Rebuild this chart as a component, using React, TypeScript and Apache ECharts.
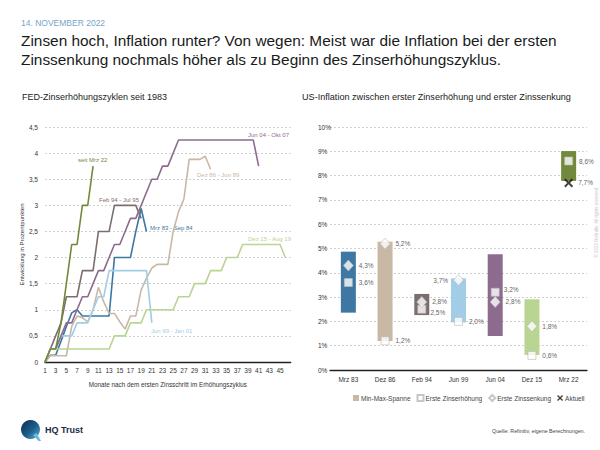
import React, { useEffect, useRef } from 'react';
import * as echarts from 'echarts';

const FONT = '"Liberation Sans", Arial, sans-serif';

// ---------- Left chart: FED hiking cycles ----------
const months = ['1','2','3','4','5','6','7','8','9','10','11','12','13','14','15','16','17','18','19','20','21','22','23','24','25','26','27','28','29','30','31','32','33','34','35','36','37','38','39','40','41','42','43','44','45','46','47'];
const yTicksLeft = [0, 0.5, 1, 1.5, 2, 2.5, 3, 3.5, 4, 4.5];

const cycleMar83 = [0, 0.13, 0.13, 0.4, 0.68, 0.94, 1.0, 0.88, 0.88, 0.88, 0.88, 0.88, 0.88, 2.0, 2.0, 2.0, 2.0, 2.5, 2.94, 2.5];
const cycleDec86 = [0, 0.12, 0.12, 0.12, 0.12, 0.68, 0.88, 0.85, 0.77, 1.0, 1.43, 1.15, 0.93, 0.93, 0.77, 0.63, 0.88, 0.88, 1.38, 1.6, 1.8, 1.87, 1.87, 1.87, 2.5, 2.88, 3.12, 3.88, 3.88, 3.88, 3.94, 3.69];
const cycleFeb94 = [0, 0.25, 0.5, 0.75, 1.25, 1.25, 1.25, 1.75, 1.75, 1.75, 2.5, 2.5, 2.5, 3.0, 3.0, 3.0, 3.0, 3.0, 2.75];
const cycleJun99 = [0, 0.25, 0.25, 0.5, 0.5, 0.5, 0.75, 0.75, 0.75, 1.0, 1.25, 1.25, 1.75, 1.75, 1.75, 1.75, 1.75, 1.75, 1.75, 1.75, 0.75];
const cycleJun04 = [0, 0.25, 0.25, 0.5, 0.75, 0.75, 1.0, 1.25, 1.25, 1.5, 1.75, 1.75, 2.0, 2.25, 2.25, 2.5, 2.75, 2.75, 3.0, 3.25, 3.5, 3.5, 3.75, 3.75, 4.0, 4.25, 4.25, 4.25, 4.25, 4.25, 4.25, 4.25, 4.25, 4.25, 4.25, 4.25, 4.25, 4.25, 4.25, 4.25, 3.75];
const cycleDec15 = [0, 0.25, 0.25, 0.25, 0.25, 0.25, 0.25, 0.25, 0.25, 0.25, 0.25, 0.25, 0.25, 0.5, 0.5, 0.5, 0.75, 0.75, 0.75, 1.0, 1.0, 1.0, 1.0, 1.0, 1.0, 1.25, 1.25, 1.25, 1.5, 1.5, 1.5, 1.75, 1.75, 1.75, 2.0, 2.0, 2.0, 2.25, 2.25, 2.25, 2.25, 2.25, 2.25, 2.25, 2.25, 2.0];
const cycleMar22 = [0, 0.25, 0.25, 0.75, 1.5, 2.25, 2.25, 3.0, 3.0, 3.75];

const cycleNames = ['Mrz 83 - Sep 84', 'Dez 86 - Jun 89', 'Feb 94 - Jul 95', 'Jun 99 - Jan 01', 'Jun 04 - Okt 07', 'Dez 15 - Aug 19', 'seit Mrz 22'];

// ---------- Right chart: US inflation ----------
const inflCats = ['Mrz 83', 'Dez 86', 'Feb 94', 'Jun 99', 'Jun 04', 'Dez 15', 'Mrz 22'];
const inflMin = [2.36, 1.19, 2.26, 1.96, 1.40, 0.62, 7.78];
const inflMax = [4.87, 5.28, 3.13, 3.77, 4.76, 2.91, 9.01];
const firstHike = [3.6, 1.2, 2.5, 2.0, 3.2, 0.6, 8.6];
const firstCut = [4.3, 5.2, 2.8, 3.7, 2.8, 1.8, null];
const current = [null, null, null, null, null, null, 7.7];
const yTicksRight = [0, 1, 2, 3, 4, 5, 6, 7, 8, 9, 10];

const COLORS = ['#3d77a2', '#c9b8a5', '#7b6f6e', '#a2cde6', '#8c6b8e', '#b8d592', '#72893c'];

const fmtComma = (v: number) => String(v).replace('.', ',');
const fmtPct = (v: number) => v.toFixed(1).replace('.', ',') + '%';

const X_PATH = 'path://M0,1.6L1.6,0L5,3.4L8.4,0L10,1.6L6.6,5L10,8.4L8.4,10L5,6.6L1.6,10L0,8.4L3.4,5Z';

export default function App() {
  const ref = useRef<HTMLDivElement>(null);
  useEffect(() => {
    if (!ref.current) return;
    const chart = echarts.init(ref.current, undefined, { renderer: 'svg' });

    const gridLine = { show: true, lineStyle: { color: '#c4c4c4', type: [2, 2] as any, width: 0.8 } };
    const axisLabelStyle = { fontSize: 6.5, color: '#333', fontFamily: FONT };

    const lineSeries = [cycleMar83, cycleDec86, cycleFeb94, cycleJun99, cycleJun04, cycleDec15, cycleMar22].map((d, i) => ({
      type: 'line',
      name: cycleNames[i],
      xAxisIndex: 0,
      yAxisIndex: 0,
      data: d,
      showSymbol: false,
      symbol: 'none',
      lineStyle: { color: COLORS[i], width: 1.6 },
      itemStyle: { color: COLORS[i] },
      z: i === 6 ? 5 : 3,
    }));

    // label placement tweaks (relative to the symbol's box)
    const cutLabel: Record<number, any> = {
      3: { position: 'left' },
    };
    const hikeLabel: Record<number, any> = {
      2: { position: [13, 7.5], align: 'left', verticalAlign: 'middle' },
      4: { position: [13, 2], align: 'left', verticalAlign: 'middle' },
    };

    const labelBase = { show: true, fontSize: 6.5, color: '#333', fontFamily: FONT, formatter: (p: any) => fmtPct(p.value[1] ?? p.value) };

    const option: any = {
      animation: false,
      textStyle: { fontFamily: FONT },
      grid: [
        { left: 45, top: 127, width: 245.7, height: 235 },
        { left: 330, top: 127, width: 257, height: 243 },
      ],
      xAxis: [
        {
          gridIndex: 0,
          type: 'category',
          data: months,
          boundaryGap: false,
          axisLine: { lineStyle: { color: '#222', width: 1.3 } },
          axisTick: { show: false },
          axisLabel: { ...axisLabelStyle, interval: 1, margin: 5, formatter: (v: string) => (v === '47' ? '' : v) },
          splitLine: { show: false },
          name: 'Monate nach dem ersten Zinsschritt im Erhöhungszyklus',
          nameLocation: 'middle',
          nameGap: 19,
          nameTextStyle: { fontSize: 6.3, color: '#333', fontFamily: FONT },
        },
        {
          gridIndex: 1,
          type: 'category',
          data: inflCats,
          axisLine: { lineStyle: { color: '#222', width: 1.3 } },
          axisTick: { show: false },
          axisLabel: { ...axisLabelStyle, margin: 6 },
          splitLine: { show: false },
        },
      ],
      yAxis: [
        {
          gridIndex: 0,
          type: 'value',
          min: yTicksLeft[0],
          max: yTicksLeft[yTicksLeft.length - 1],
          interval: 0.5,
          axisLine: { show: false },
          axisTick: { show: false },
          axisLabel: { ...axisLabelStyle, margin: 7, formatter: (v: number) => fmtComma(v) },
          splitLine: gridLine,
          name: 'Entwicklung in Prozentpunkten',
          nameLocation: 'middle',
          nameGap: 19,
          nameTextStyle: { fontSize: 6, color: '#333', fontFamily: FONT },
        },
        {
          gridIndex: 1,
          type: 'value',
          min: yTicksRight[0],
          max: yTicksRight[yTicksRight.length - 1],
          interval: 1,
          axisLine: { show: false },
          axisTick: { show: false },
          axisLabel: { ...axisLabelStyle, margin: 12, align: 'left', formatter: (v: number) => v + '%' },
          splitLine: gridLine,
        },
      ],
      legend: {
        left: 348,
        top: 389,
        itemWidth: 6,
        itemHeight: 6,
        itemGap: 6,
        selectedMode: false,
        textStyle: { fontSize: 6.5, color: '#444', fontFamily: FONT, padding: [0, 0, 0, -3] },
        data: [
          { name: 'Min-Max-Spanne', icon: 'rect' },
          { name: 'Erste Zinserhöhung' },
          { name: 'Erste Zinssenkung' },
          { name: 'Aktuell' },
        ],
      },
      series: [
        ...lineSeries,
        {
          type: 'bar',
          name: 'base',
          xAxisIndex: 1,
          yAxisIndex: 1,
          stack: 'range',
          barWidth: 15,
          silent: true,
          itemStyle: { color: 'rgba(0,0,0,0)' },
          data: inflMin,
        },
        {
          type: 'bar',
          name: 'Min-Max-Spanne',
          xAxisIndex: 1,
          yAxisIndex: 1,
          stack: 'range',
          barWidth: 15,
          itemStyle: { color: '#c9b8a5' },
          data: inflMax.map((v, i) => ({ value: +(v - inflMin[i]).toFixed(2), itemStyle: { color: COLORS[i] } })),
        },
        {
          type: 'scatter',
          name: 'Erste Zinserhöhung',
          xAxisIndex: 1,
          yAxisIndex: 1,
          symbol: 'rect',
          symbolSize: 8,
          itemStyle: { color: '#fff', borderColor: '#b9b9b9', borderWidth: 0.8 },
          label: { ...labelBase, position: 'right', distance: 6 },
          z: 4,
          data: firstHike.map((v, i) => ({ value: v, label: hikeLabel[i] || {} })),
        },
        {
          type: 'scatter',
          name: 'Erste Zinssenkung',
          xAxisIndex: 1,
          yAxisIndex: 1,
          symbol: 'diamond',
          symbolSize: [10, 11],
          itemStyle: { color: '#fff', borderColor: '#b9b9b9', borderWidth: 0.8 },
          label: { ...labelBase, position: 'right', distance: 5 },
          z: 5,
          data: firstCut.map((v, i) => ({ value: v, label: cutLabel[i] || {} })),
        },
        {
          type: 'scatter',
          name: 'Aktuell',
          xAxisIndex: 1,
          yAxisIndex: 1,
          symbol: X_PATH,
          symbolSize: 9,
          itemStyle: { color: '#111' },
          label: { ...labelBase, position: 'right', distance: 5 },
          z: 6,
          data: current,
        },
      ],
      graphic: [
        { type: 'text', left: 21, top: 18, style: { text: '14. NOVEMBER 2022', fontSize: 8.5, fill: '#7aa3c6', fontFamily: FONT } },
        { type: 'text', left: 21, top: 33, style: { text: 'Zinsen hoch, Inflation runter? Von wegen: Meist war die Inflation bei der ersten', fontSize: 15.4, fill: '#1a1a1a', fontFamily: FONT } },
        { type: 'text', left: 21, top: 51.5, style: { text: 'Zinssenkung nochmals höher als zu Beginn des Zinserhöhungszyklus.', fontSize: 15.4, fill: '#1a1a1a', fontFamily: FONT } },
        { type: 'text', left: 22, top: 92.5, style: { text: 'FED-Zinserhöhungszyklen seit 1983', fontSize: 9, fill: '#222', fontFamily: FONT } },
        { type: 'text', left: 302, top: 92.5, style: { text: 'US-Inflation zwischen erster Zinserhöhung und erster Zinssenkung', fontSize: 9.1, fill: '#222', fontFamily: FONT } },
        // series labels (left chart)
        { type: 'text', x: 78, y: 160, style: { text: 'seit Mrz 22', fontSize: 6, fill: COLORS[6], fontFamily: FONT, verticalAlign: 'middle' } },
        { type: 'text', x: 99, y: 200, style: { text: 'Feb 94 - Jul 95', fontSize: 6, fill: COLORS[2], fontFamily: FONT, verticalAlign: 'middle' } },
        { type: 'text', x: 150, y: 228, style: { text: 'Mrz 83 - Sep 84', fontSize: 6, fill: COLORS[0], fontFamily: FONT, verticalAlign: 'middle' } },
        { type: 'text', x: 248, y: 135, style: { text: 'Jun 04 - Okt 07', fontSize: 6, fill: COLORS[4], fontFamily: FONT, verticalAlign: 'middle' } },
        { type: 'text', x: 197, y: 175, style: { text: 'Dez 86 - Jun 89', fontSize: 6, fill: COLORS[1], fontFamily: FONT, verticalAlign: 'middle' } },
        { type: 'text', x: 248, y: 239, style: { text: 'Dez 15 - Aug 19', fontSize: 6, fill: COLORS[5], fontFamily: FONT, verticalAlign: 'middle' } },
        { type: 'text', x: 151, y: 331, style: { text: 'Jun 99 - Jan 01', fontSize: 6, fill: COLORS[3], fontFamily: FONT, verticalAlign: 'middle' } },
        // copyright vertical
        { type: 'text', x: 596, y: 222, rotation: Math.PI / 2, style: { text: '© 2022 Refinitiv. All rights reserved.', fontSize: 4.5, fill: '#c8c8c8', fontFamily: FONT, align: 'center', verticalAlign: 'middle' } },
        // logo
        {
          type: 'circle',
          shape: { cx: 30.5, cy: 429.5, r: 9.5 },
          style: {
            fill: new echarts.graphic.LinearGradient(0, 0, 1, 1, [
              { offset: 0, color: '#0a2c4e' },
              { offset: 0.55, color: '#1c5f8c' },
              { offset: 1, color: '#5db3dc' },
            ]),
          },
        },
        { type: 'polygon', shape: { points: [[33, 435], [36.5, 433], [41, 441], [38.5, 441]] }, style: { fill: '#6cb9e0' } },
        { type: 'text', left: 45, top: 425, style: { text: 'HQ Trust', fontSize: 9, fontWeight: 'bold', fill: '#1b2c45', fontFamily: FONT } },
        { type: 'text', x: 585, y: 431, style: { text: 'Quelle: Refinitiv, eigene Berechnungen.', fontSize: 5.3, fill: '#444', fontFamily: FONT, align: 'right', verticalAlign: 'middle' } },
      ],
    };
    chart.setOption(option);
    return () => chart.dispose();
  }, []);
  return <div ref={ref} style={{ position: 'fixed', left: 0, top: 0, width: 600, height: 450, background: '#fff' }} />;
}
